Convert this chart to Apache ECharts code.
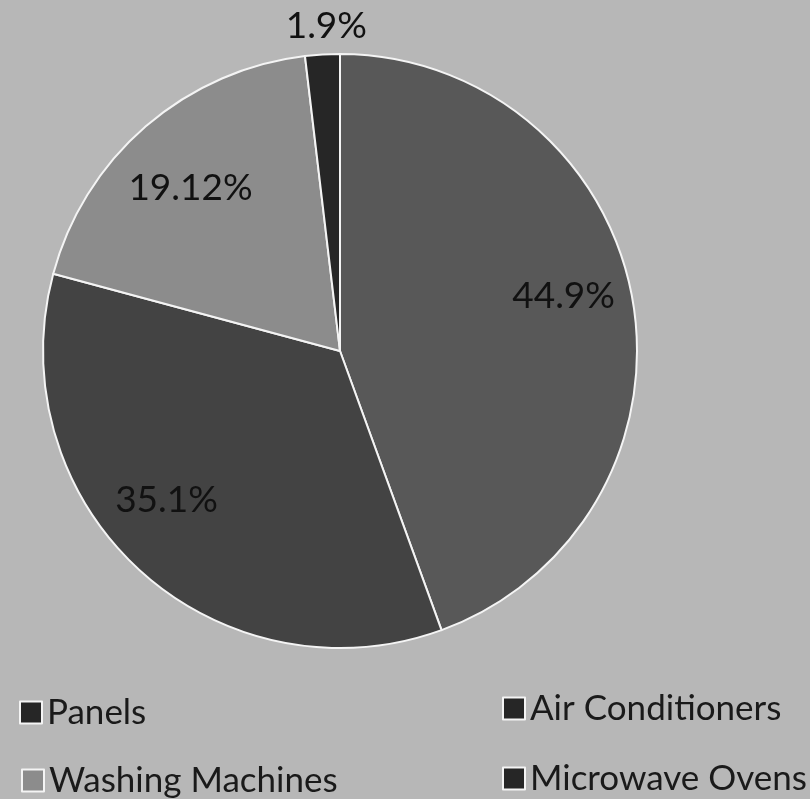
<!DOCTYPE html>
<html>
<head>
<meta charset="utf-8">
<script src="https://cdn.jsdelivr.net/npm/echarts@6/dist/echarts.min.js"></script>
<style>
  html, body { margin: 0; padding: 0; background: #b7b7b7; }
  #chart { width: 810px; height: 799px; }
</style>
</head>
<body>
<div id="chart"></div>
<script>
// data (clockwise from 12 o'clock)
const categories = ['Panels', 'Air Conditioners', 'Washing Machines', 'Microwave Ovens'];
const shares = [44.9, 35.1, 19.12, 1.9];
const sliceColors = ['#585858', '#434343', '#8c8c8c', '#262626'];
const legendColors = ['#262626', '#262626', '#8c8c8c', '#262626'];

const myChart = echarts.init(document.getElementById('chart'));

const pieData = categories.map((name, i) => ({
    name: name,
    value: shares[i],
    itemStyle: { color: sliceColors[i] }
}));

// transparent copy, only used to place the in-slice labels further out
const labelData = categories.map((name, i) => ({
    name: name,
    value: shares[i],
    label: { show: i < 3 }
}));

// small nudges so labels sit where the original put them
const labelShift = [[3, -16], [-22, -16], [-3, 7]];

const fontFamily = 'Lato, "Open Sans", sans-serif';
const legendText = { fontSize: 35, color: '#1a1a1a', fontFamily: fontFamily };

// one legend per entry, laid out in a 2x2 grid like the original
const legendPos = [[14, 690], [497, 686], [16, 758], [497, 756]];
const legends = categories.map((name, i) => ({
    left: legendPos[i][0],
    top: legendPos[i][1],
    itemWidth: 22, itemHeight: 22,
    icon: 'rect',
    selectedMode: false,
    textStyle: legendText,
    data: [{ name: name, itemStyle: { color: legendColors[i] } }]
}));

const option = {
    backgroundColor: '#b7b7b7',
    animation: false,
    legend: legends,
    series: [
        {
            type: 'pie',
            center: [340, 351],
            radius: 297,
            startAngle: 90,
            clockwise: true,
            data: pieData,
            itemStyle: { borderColor: '#f4f4f4', borderWidth: 2 },
            label: {
                show: true,
                position: 'outside',
                formatter: p => p.dataIndex === 3 ? p.value + '%' : '',
                fontSize: 37,
                color: '#111',
                fontFamily: fontFamily
            },
            labelLine: { show: false, length: 8, length2: 0 },
            labelLayout: function (params) {
                if (params.dataIndex === 3) return { dx: 50, dy: -20 };
            }
        },
        {
            type: 'pie',
            silent: true,
            center: [340, 351],
            radius: 442,
            startAngle: 90,
            clockwise: true,
            data: labelData,
            itemStyle: { color: 'rgba(0,0,0,0)' },
            label: {
                show: true,
                position: 'inside',
                formatter: '{c}%',
                fontSize: 37,
                color: '#111',
                fontFamily: fontFamily
            },
            labelLine: { show: false },
            labelLayout: function (params) {
                const s = labelShift[params.dataIndex];
                if (s) return { dx: s[0], dy: s[1] };
            }
        }
    ]
};

myChart.setOption(option);
</script>
</body>
</html>
